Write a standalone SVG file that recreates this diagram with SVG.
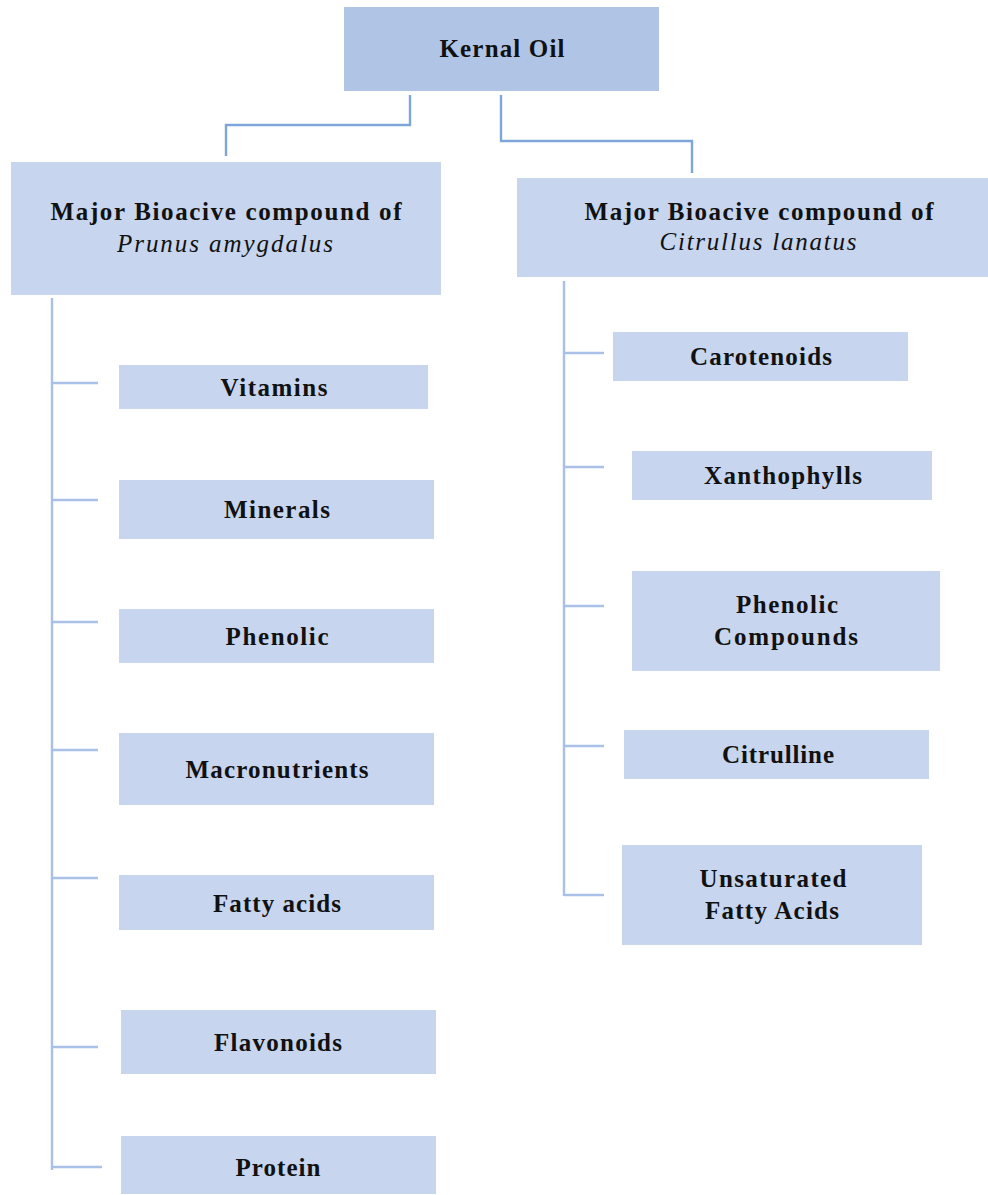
<svg xmlns="http://www.w3.org/2000/svg" width="988" height="1195" viewBox="0 0 988 1195">
<style>
.top{fill:#B0C4E6}
.box{fill:#C7D5EE}
.t{font-family:"Liberation Serif","Times New Roman",serif;font-weight:bold;font-size:25px;fill:#111;text-anchor:middle}
.i{font-weight:normal;font-style:italic}
.c1{fill:none;stroke:#7EA6DA;stroke-width:2.4}
.c2{fill:none;stroke:#A9C1E6;stroke-width:2.4}
</style>
<rect width="988" height="1195" fill="#fff"/>
<g id="connectors">
<polyline class="c1" points="410,95 410,125 226,125 226,156"/>
<polyline class="c1" points="501,95 501,141 692,141 692,173"/>
<line class="c2" x1="52" y1="298" x2="52" y2="1170"/>
<line class="c2" x1="52" y1="383" x2="98" y2="383"/>
<line class="c2" x1="52" y1="500" x2="98" y2="500"/>
<line class="c2" x1="52" y1="622" x2="98" y2="622"/>
<line class="c2" x1="52" y1="750" x2="98" y2="750"/>
<line class="c2" x1="52" y1="878" x2="98" y2="878"/>
<line class="c2" x1="52" y1="1047" x2="98" y2="1047"/>
<line class="c2" x1="52" y1="1167" x2="102" y2="1167"/>
<line class="c2" x1="564" y1="281" x2="564" y2="896"/>
<line class="c2" x1="564" y1="353" x2="604" y2="353"/>
<line class="c2" x1="564" y1="467" x2="604" y2="467"/>
<line class="c2" x1="564" y1="606" x2="604" y2="606"/>
<line class="c2" x1="564" y1="746" x2="604" y2="746"/>
<line class="c2" x1="564" y1="895" x2="604" y2="895"/>
</g>
<g id="kernal"><rect class="top" x="344" y="7" width="315" height="84"/><text class="t" x="502" y="57" textLength="125">Kernal Oil</text></g>
<g id="prunus"><rect class="box" x="11" y="162" width="430" height="133"/><text class="t" x="226" y="220" textLength="351" lengthAdjust="spacing">Major Bioacive compound of</text><text class="t i" x="225" y="252" textLength="216">Prunus amygdalus</text></g>
<g id="citrullus"><rect class="box" x="517" y="178" width="471" height="99"/><text class="t" x="759" y="220" textLength="349">Major Bioacive compound of</text><text class="t i" x="758" y="250" textLength="197">Citrullus lanatus</text></g>
<g id="vitamins"><rect class="box" x="119" y="365" width="309" height="44"/><text class="t" x="274" y="396" textLength="107">Vitamins</text></g>
<g id="minerals"><rect class="box" x="119" y="480" width="315" height="59"/><text class="t" x="277" y="518" textLength="106">Minerals</text></g>
<g id="phenolic"><rect class="box" x="119" y="609" width="315" height="54"/><text class="t" x="277" y="645" textLength="103">Phenolic</text></g>
<g id="macronutrients"><rect class="box" x="119" y="733" width="315" height="72"/><text class="t" x="277" y="778" textLength="183">Macronutrients</text></g>
<g id="fatty"><rect class="box" x="119" y="875" width="315" height="55"/><text class="t" x="277" y="912" textLength="128">Fatty acids</text></g>
<g id="flavonoids"><rect class="box" x="121" y="1010" width="315" height="64"/><text class="t" x="278" y="1051" textLength="128">Flavonoids</text></g>
<g id="protein"><rect class="box" x="121" y="1136" width="315" height="58"/><text class="t" x="278" y="1176" textLength="85">Protein</text></g>
<g id="carotenoids"><rect class="box" x="613" y="332" width="295" height="49"/><text class="t" x="761" y="365" textLength="142">Carotenoids</text></g>
<g id="xanthophylls"><rect class="box" x="632" y="451" width="300" height="49"/><text class="t" x="783" y="484" textLength="158">Xanthophylls</text></g>
<g id="phenoliccompounds"><rect class="box" x="632" y="571" width="308" height="100"/><text class="t" x="787" y="613" textLength="102">Phenolic</text><text class="t" x="786" y="645" textLength="144">Compounds</text></g>
<g id="citrulline"><rect class="box" x="624" y="730" width="305" height="49"/><text class="t" x="778" y="763" textLength="112">Citrulline</text></g>
<g id="ufa"><rect class="box" x="622" y="845" width="300" height="100"/><text class="t" x="773" y="887" textLength="147">Unsaturated</text><text class="t" x="772" y="919" textLength="134">Fatty Acids</text></g>
</svg>
